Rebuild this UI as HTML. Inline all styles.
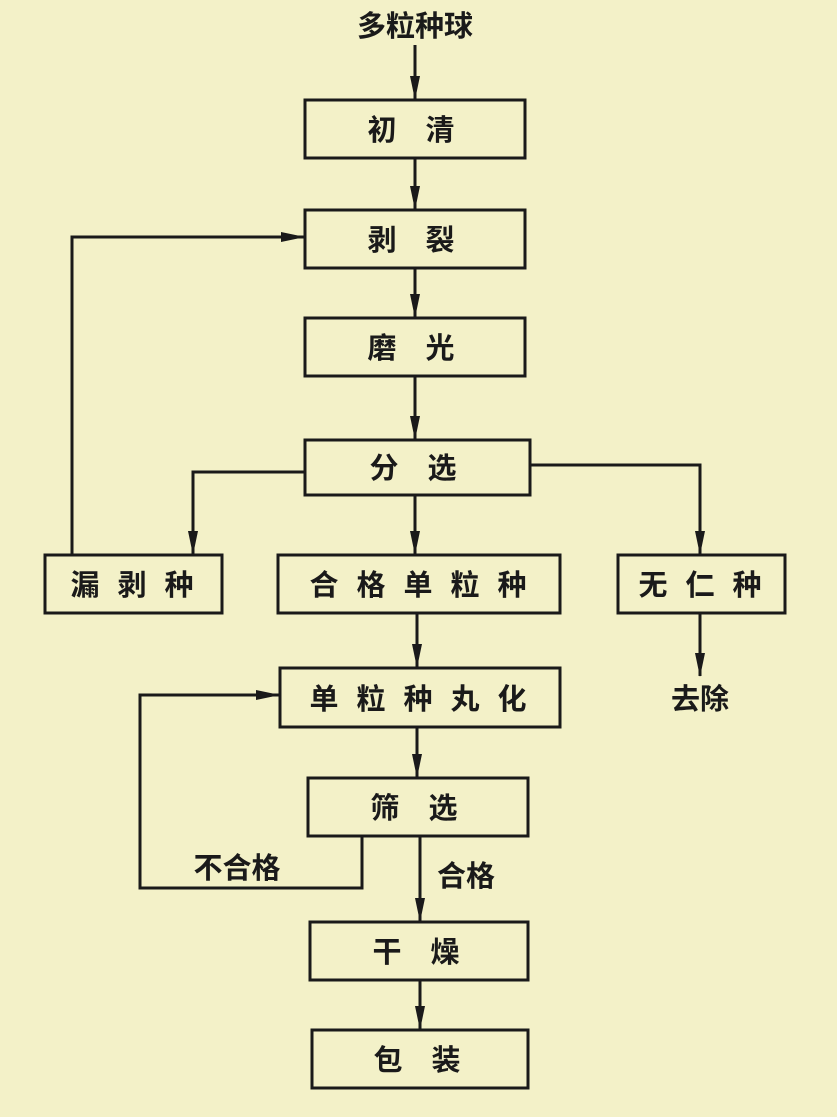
<!DOCTYPE html>
<html><head><meta charset="utf-8"><style>
html,body{margin:0;padding:0;background:#f3f1c8;}
svg{display:block}
text{font-family:"Liberation Sans","Noto Sans CJK SC",sans-serif;fill:#1a1a1a;font-size:29px;font-weight:bold;}
</style></head><body>
<svg width="837" height="1117" viewBox="0 0 837 1117" xmlns="http://www.w3.org/2000/svg">
<defs><marker id="a" markerWidth="24" markerHeight="10" refX="23" refY="5" orient="auto" markerUnits="userSpaceOnUse"><path d="M0,0 L24,5 L0,10 Z" fill="#1a1a1a"/></marker></defs>
<rect width="837" height="1117" fill="#f3f1c8"/>
<g stroke="#1a1a1a" stroke-width="3" fill="none">
<rect x="305" y="100" width="220" height="58"/>
<rect x="305" y="210" width="220" height="58"/>
<rect x="305" y="318" width="220" height="58"/>
<rect x="305" y="440" width="225" height="55"/>
<rect x="45" y="555" width="177" height="58"/>
<rect x="278" y="555" width="282" height="58"/>
<rect x="618" y="555" width="167" height="58"/>
<rect x="280" y="668" width="280" height="59"/>
<rect x="308" y="778" width="220" height="58"/>
<rect x="310" y="922" width="218" height="58"/>
<rect x="312" y="1030" width="216" height="58"/>
<line x1="415" y1="45" x2="415" y2="99" marker-end="url(#a)"/>
<line x1="415" y1="158" x2="415" y2="209" marker-end="url(#a)"/>
<line x1="415" y1="268" x2="415" y2="317" marker-end="url(#a)"/>
<line x1="415" y1="376" x2="415" y2="439" marker-end="url(#a)"/>
<line x1="415" y1="495" x2="415" y2="554" marker-end="url(#a)"/>
<line x1="417" y1="613" x2="417" y2="667" marker-end="url(#a)"/>
<line x1="417" y1="727" x2="417" y2="777" marker-end="url(#a)"/>
<line x1="420" y1="836" x2="420" y2="921" marker-end="url(#a)"/>
<line x1="420" y1="980" x2="420" y2="1029" marker-end="url(#a)"/>
<polyline points="305,472 193,472 193,554" marker-end="url(#a)"/>
<polyline points="530,465 700,465 700,554" marker-end="url(#a)"/>
<line x1="700" y1="613" x2="700" y2="676" marker-end="url(#a)"/>
<polyline points="72,555 72,237 304,237" marker-end="url(#a)"/>
<polyline points="362,836 362,888 140,888 140,695 279,695" marker-end="url(#a)"/>
</g>
<text x="415" y="36" text-anchor="middle">多粒种球</text>
<text x="411" y="140" text-anchor="middle">初　清</text>
<text x="411" y="250" text-anchor="middle">剥　裂</text>
<text x="411" y="358" text-anchor="middle">磨　光</text>
<text x="413" y="478" text-anchor="middle">分　选</text>
<text x="141" y="595" text-anchor="middle" letter-spacing="18">漏剥种</text>
<text x="427" y="595" text-anchor="middle" letter-spacing="18">合格单粒种</text>
<text x="709" y="595" text-anchor="middle" letter-spacing="18">无仁种</text>
<text x="700" y="709" text-anchor="middle">去除</text>
<text x="427" y="709" text-anchor="middle" letter-spacing="18">单粒种丸化</text>
<text x="414" y="818" text-anchor="middle">筛　选</text>
<text x="237" y="878" text-anchor="middle">不合格</text>
<text x="466" y="886" text-anchor="middle">合格</text>
<text x="416" y="962" text-anchor="middle">干　燥</text>
<text x="417" y="1070" text-anchor="middle">包　装</text>
</svg>
</body></html>
